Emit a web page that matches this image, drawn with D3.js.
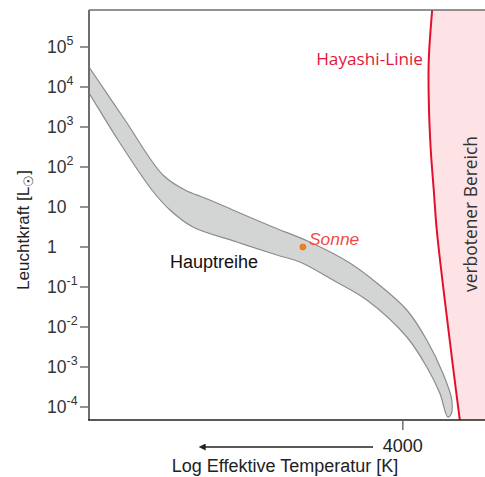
<!DOCTYPE html>
<html><head><meta charset="utf-8">
<script src="https://cdn.jsdelivr.net/npm/d3@7"></script>
<style>body{margin:0;background:#fff}svg{display:block}</style>
</head><body>
<svg id="c" width="485" height="477"></svg>
<script>
// Data: log10(Teff [K]) and log10(L / Lsun)
const bandUpperLogT = [4.118, 4.1037, 4.0462, 3.9855, 3.9503, 3.9184, 3.8737, 3.8098, 3.7507, 3.6868, 3.6436, 3.5957, 3.5638, 3.5382, 3.5238, 3.5254];
const bandUpperLogL = [4.825, 4.5, 3.175, 1.8, 1.425, 1.225, 0.925, 0.5, 0.125, -0.4, -0.9, -1.575, -2.325, -3.15, -3.825, -4.2];
const bandLowerLogT = [3.5302, 3.5430, 3.5638, 3.5957, 3.6596, 3.7139, 3.7666, 3.8034, 3.8673, 3.9376, 3.9743, 4.0031, 4.0574, 4.1037, 4.118];
const bandLowerLogL = [-4.25, -3.65, -3.0, -2.25, -1.325, -0.825, -0.375, -0.2, 0.125, 0.5, 0.925, 1.425, 2.675, 3.85, 4.2];
const hayashiLogT = [3.5542, 3.5606, 3.5606, 3.5574, 3.5526, 3.5478, 3.5350, 3.5222, 3.5095];
const hayashiLogL = [6.1, 4.675, 3.675, 2.425, 1.425, 0.425, -1.325, -2.95, -4.5];
const sunLogT = 3.7618, sunLogL = 0;
const yTickExp = [5, 4, 3, 2, 1, 0, -1, -2, -3, -4];
const xTickT = [4000];

const FONT = "Liberation Sans, Arial, sans-serif";
const svg = d3.select("#c");
const L = 89, R = 485, T = 10, B = 420;
const x = d3.scaleLinear().domain([4.1037, 3.4707]).range([L, R]);
const y = d3.scaleLinear().domain([5.925, -4.325]).range([T, B]);

svg.append("clipPath").attr("id", "clip").append("rect")
  .attr("x", L).attr("y", T).attr("width", R - L).attr("height", B - T);
const g = svg.append("g").attr("clip-path", "url(#clip)");

// forbidden region
const hay = hayashiLogT.map((t, i) => [x(t), y(hayashiLogL[i])]);
const area = d3.area().x(d => d[0]).x1(R + 10).y(d => d[1]).curve(d3.curveCatmullRom);
g.append("path").attr("d", area(hay)).attr("fill", "#fde3e5");

// main sequence band
const band = bandUpperLogT.map((t, i) => [x(t), y(bandUpperLogL[i])])
  .concat(bandLowerLogT.map((t, i) => [x(t), y(bandLowerLogL[i])]));
g.append("path").attr("d", d3.line().curve(d3.curveCatmullRomClosed)(band))
  .attr("fill", "#d3d4d4").attr("stroke", "#8c8c8c").attr("stroke-width", 1.2);

g.append("path").attr("d", d3.line().curve(d3.curveCatmullRom)(hay))
  .attr("fill", "none").attr("stroke", "#e3102c").attr("stroke-width", 2);

// frame
svg.append("line").attr("x1", L).attr("x2", R).attr("y1", T).attr("y2", T).attr("stroke", "#6e6e6e").attr("stroke-width", 1.6);
svg.append("line").attr("x1", L).attr("x2", L).attr("y1", T).attr("y2", B).attr("stroke", "#6e6e6e").attr("stroke-width", 2);
svg.append("line").attr("x1", L - 1).attr("x2", R).attr("y1", B).attr("y2", B).attr("stroke", "#222").attr("stroke-width", 1.6);

// y ticks
const yt = svg.append("g").attr("font-family", FONT).attr("fill", "#333");
yTickExp.forEach(e => {
  const yy = y(e);
  yt.append("line").attr("x1", L - 9).attr("x2", L).attr("y1", yy).attr("y2", yy).attr("stroke", "#6e6e6e").attr("stroke-width", 1.5);
  const t = yt.append("text").attr("x", 47).attr("y", yy + 6.3).attr("font-size", 17.5);
  if (e === 0) t.text("1");
  else if (e === 1) t.text("10");
  else {
    t.append("tspan").text("10");
    t.append("tspan").attr("dy", -8).attr("font-size", 12.5).text(String(e));
  }
});

// x tick
const xScaleT = v => x(Math.log10(v));
xTickT.forEach(v => {
  svg.append("line").attr("x1", xScaleT(v)).attr("x2", xScaleT(v)).attr("y1", B).attr("y2", B + 10).attr("stroke", "#6e6e6e").attr("stroke-width", 1.5);
  svg.append("text").attr("x", xScaleT(v)).attr("y", 452).attr("text-anchor", "middle")
    .attr("font-family", FONT).attr("font-size", 18).attr("fill", "#222").text(String(v));
});

// arrow
svg.append("defs").append("marker").attr("id", "ah").attr("viewBox", "0 0 10 10").attr("refX", 1).attr("refY", 5)
  .attr("markerWidth", 11).attr("markerHeight", 7).attr("markerUnits", "userSpaceOnUse").attr("orient", "auto")
  .append("path").attr("d", "M0,0 L10,5 L0,10 Z").attr("fill", "#222");
svg.append("line").attr("x1", 373).attr("x2", 205).attr("y1", 447).attr("y2", 447).attr("stroke", "#222").attr("stroke-width", 1.3)
  .attr("marker-end", "url(#ah)");

svg.append("text").attr("x", 285).attr("y", 471.5).attr("text-anchor", "middle")
  .attr("font-family", FONT).attr("font-size", 18).attr("fill", "#222")
  .text("Log Effektive Temperatur [K]");

// y title
const yl = svg.append("text").attr("transform", "translate(28.5,230) rotate(-90)").attr("text-anchor", "middle")
  .attr("font-family", FONT).attr("font-size", 17).attr("fill", "#222");
yl.append("tspan").text("Leuchtkraft [L");
yl.append("tspan").attr("dy", 4).attr("font-size", 13).text("☉");
yl.append("tspan").attr("dy", -4).text("]");

// labels
svg.append("text").attr("x", 170).attr("y", 268).attr("font-family", FONT)
  .attr("font-size", 18).attr("fill", "#111").text("Hauptreihe");
svg.append("circle").attr("cx", x(sunLogT)).attr("cy", y(sunLogL)).attr("r", 3).attr("fill", "#f0821e").attr("stroke", "#e06010").attr("stroke-width", 0.6);
svg.append("text").attr("x", 309).attr("y", 245).attr("font-family", FONT)
  .attr("font-size", 17.4).attr("font-style", "italic").attr("fill", "#ee4b46").text("Sonne");
svg.append("text").attr("x", 423).attr("y", 65).attr("text-anchor", "end").attr("font-family", "Open Sans, sans-serif")
  .attr("font-size", 17.2).attr("fill", "#e3173a").text("Hayashi-Linie");
svg.append("text").attr("transform", "translate(477,214) rotate(-90)").attr("text-anchor", "middle")
  .attr("font-family", "Open Sans, sans-serif").attr("font-size", 17.4).attr("fill", "#333").text("verbotener Bereich");
</script>
</body></html>
